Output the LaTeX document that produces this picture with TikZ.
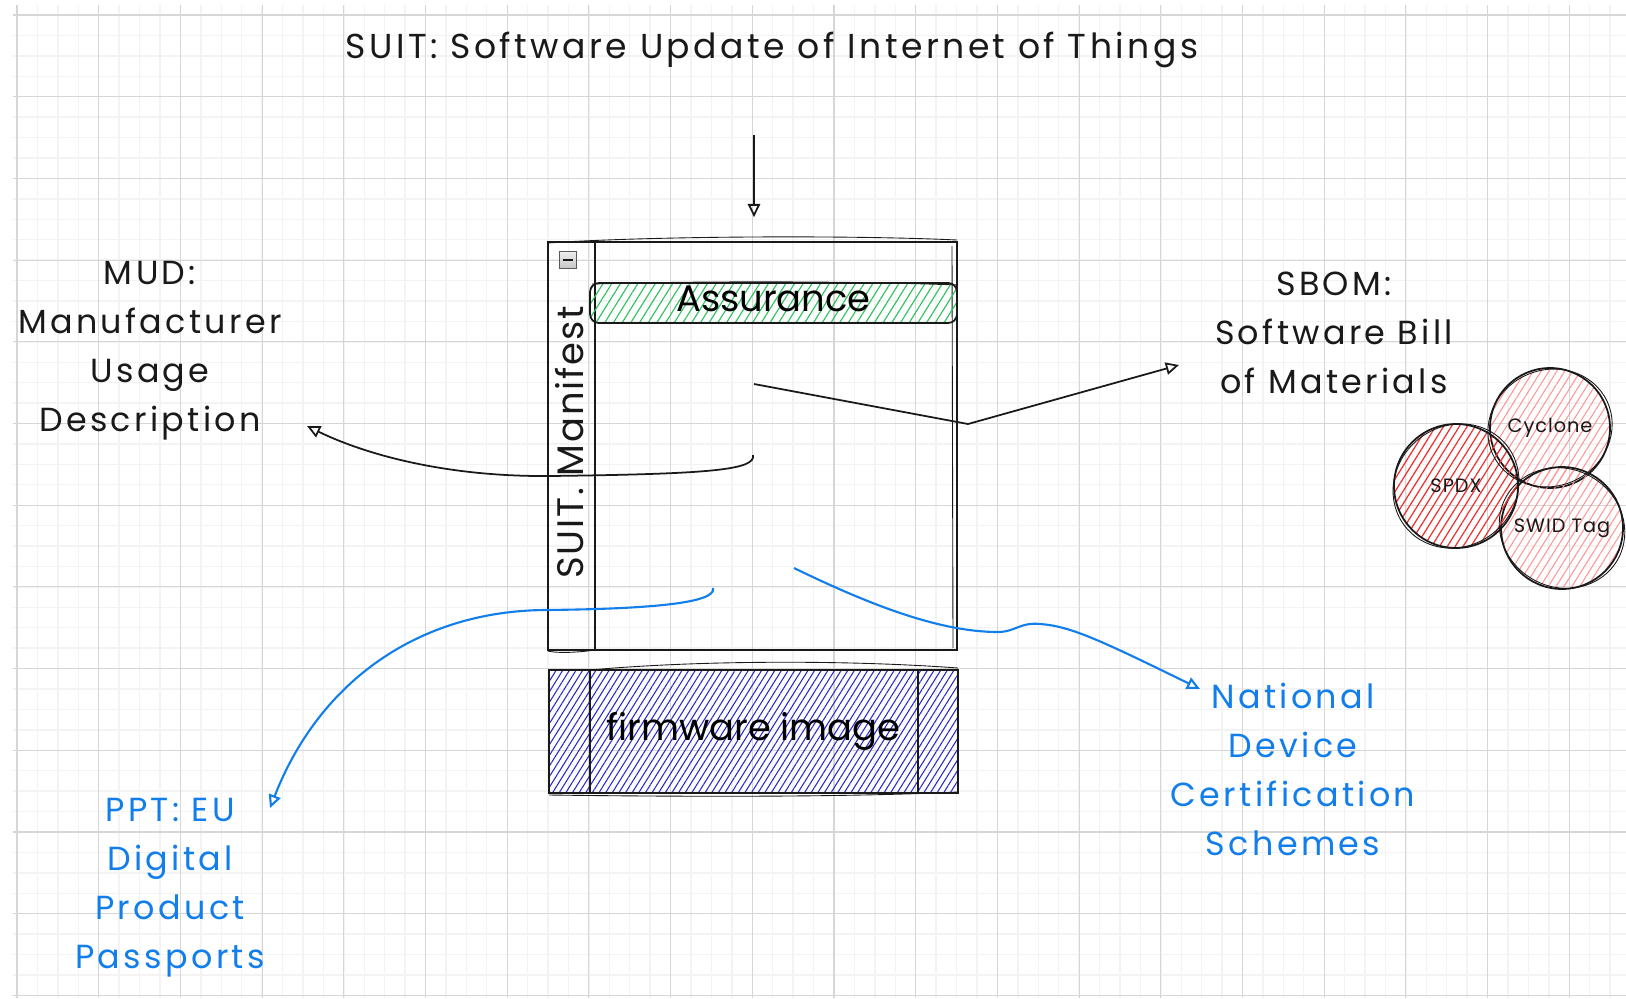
\documentclass[tikz,border=0pt]{standalone}
\usepackage{fontspec}
\setmainfont{Poppins}
\newfontfamily\widehand{Poppins}[LetterSpace=10]
\newfontfamily\midhand{Poppins}[LetterSpace=5]
\usetikzlibrary{arrows.meta,patterns.meta,calc}

\definecolor{gridmajor}{RGB}{214,214,214}
\definecolor{gridminor}{RGB}{243,243,243}
\definecolor{hatchgreen}{RGB}{45,195,95}
\definecolor{hatchblue}{RGB}{40,40,200}
\definecolor{hatchred}{RGB}{238,50,50}
\definecolor{hatchpink}{RGB}{255,150,150}
\definecolor{linkblue}{RGB}{18,126,235}
\definecolor{inkblack}{RGB}{25,25,25}

\tikzset{
  ink/.style={draw=inkblack, line width=1pt},
  sketch/.style={draw=inkblack, line width=0.5pt},
  txt/.style={inner sep=0pt, align=center, text=inkblack, font=\widehand\fontsize{19}{27.8}\selectfont},
  bluetxt/.style={txt, text=linkblue},
  blackarrow/.style={draw=inkblack, line width=1pt, -{Triangle[open, length=7.5pt, width=7pt]}},
  bluearrow/.style={draw=linkblue, line width=1.2pt, -{Triangle[open, length=7.5pt, width=7pt]}},
  hatch/.style 2 args={pattern={Lines[angle=58, distance=#1, line width=#2]}},
  blob/.style={circle, ink, inner sep=0pt, text=inkblack, font=\midhand\fontsize{11}{13}\selectfont},
}

\begin{document}
\begin{tikzpicture}[x=0.02cm, y=-0.02cm]
\useasboundingbox (0,0) rectangle (1626,998);
\fill[white] (0,0) rectangle (1626,998);

% paper grid: faint minor lines, then major lines every fourth
\foreach \k in {0,...,78}
  \draw[gridminor, line width=0.8pt] ({17+20.425*\k},5) -- ({17+20.425*\k},998);
\foreach \k in {0,...,48}
  \draw[gridminor, line width=0.8pt] (13,{15+20.425*\k}) -- (1626,{15+20.425*\k});
\foreach \k in {0,...,19}
  \draw[gridmajor, line width=0.6pt] ({17+81.7*\k},5) -- ({17+81.7*\k},998);
\foreach \k in {0,...,12}
  \draw[gridmajor, line width=0.6pt] (13,{15+81.7*\k}) -- (1626,{15+81.7*\k});

% title
\node[txt, anchor=base, font=\widehand\fontsize{19.7}{24}\selectfont] (title) at (772,58) {SUIT: Software Update of Internet of Things};

% manifest container with its vertical header strip
\node[ink, rectangle, minimum width=8.18cm, minimum height=8.16cm, inner sep=0pt] (manifest) at (752.5,446) {};
\draw[ink] (595,242) -- (595,650);
\draw[sketch] (548,243) .. controls (650,236) and (850,235) .. (957,240);
\draw[sketch] (952,246) -- (953,648);
\draw[sketch] (548,651) .. controls (555,653) and (575,653) .. (595,650);
\node[txt, rotate=90, font=\midhand\fontsize{21}{25}\selectfont] (manifestlabel) at (570,442.5) {SUIT. Manifest};

% collapse button
\node[draw=gray!70!black, line width=0.5pt, top color=gray!15, bottom color=gray!45,
      minimum size=0.34cm, inner sep=0pt] (collapse) at (567.5,260) {};
\draw[gray!20!black, line width=1pt] ($(collapse.center)+(-5,0)$) -- ($(collapse.center)+(5,0)$);

% assurance bar
\node[ink, rounded corners=5pt, hatch={4.2pt}{0.65pt}, pattern color=hatchgreen,
      minimum width=7.34cm, minimum height=0.8cm, inner sep=0pt,
      font=\fontsize{21}{25}\selectfont, text depth=5pt] (assurance) at (773.5,303) {Assurance};
\draw[sketch] (592,284) .. controls (700,281) and (850,281) .. (958,285);

% firmware image block
\node[ink, rectangle, hatch={3.2pt}{0.6pt}, pattern color=hatchblue,
      minimum width=8.18cm, minimum height=2.46cm, inner sep=0pt,
      font=\fontsize{21}{25}\selectfont] (firmware) at (753.5,731.5) {firmware image};
\draw[ink] (590,670) -- (590,793);
\draw[ink] (918,670) -- (918,793);
\draw[sketch] (590,670) .. controls (700,660) and (850,660) .. (958,668);
\draw[sketch] (549,795) .. controls (700,797) and (850,797) .. (958,792);

% outer labels
\node[txt, anchor=north] (mud) at (150,261) {MUD:\\Manufacturer\\Usage\\Description};
\node[txt, anchor=north] (sbom) at (1334,272) {SBOM:\\Software Bill\\of Materials};
\node[bluetxt, anchor=north] (ppt) at (170,798) {PPT: EU\\Digital\\Product\\Passports};
\node[bluetxt, anchor=north] (ndcs) at (1293,683) {National\\Device\\Certification\\Schemes};

% SBOM formats
\node[blob, minimum size=2.4cm, hatch={3.8pt}{0.6pt}, pattern color=hatchpink] (cyclone) at (1550,428) {Cyclone};
\node[blob, minimum size=2.44cm, hatch={3.8pt}{0.6pt}, pattern color=hatchpink] (swid) at (1562,528) {SWID Tag};
\node[blob, minimum size=2.48cm, hatch={3.8pt}{0.7pt}, pattern color=hatchred] (spdx) at (1456,486) {SPDX};
\draw[sketch, rotate around={25:(cyclone.center)}] (cyclone.center) ellipse [x radius=63, y radius=58];
\draw[sketch, rotate around={-30:(swid.center)}] (swid.center) ellipse [x radius=64, y radius=59];
\draw[sketch, rotate around={40:(spdx.center)}] (spdx.center) ellipse [x radius=65, y radius=60];

% connectors
\coordinate (tstart) at (754,135);
\draw[blackarrow, shorten >=0.48cm] (tstart) -- (tstart |- manifest.north);

\coordinate (sstart) at (754,384);
\draw[blackarrow] (sstart) -- (968,424) -- ($(sbom.north)+(-155,93)$);

\coordinate (mstart) at (753,455);
\draw[blackarrow] (mstart) .. controls (756,470) and (710,474) .. (550,476)
  .. controls (440,477) and (360,452) .. ($(mud.north)+(157,165)$);

\coordinate (pstart) at (713,588);
\draw[bluearrow] (pstart) .. controls (717,603) and (650,609) .. (545,610)
  .. controls (420,611) and (320,680) .. ($(ppt.north)+(100,10)$);

\coordinate (nstart) at (794,568);
\draw[bluearrow] (nstart) .. controls (870,605) and (940,632) .. (998,632)
  .. controls (1015,632) and (1020,622) .. (1040,624)
  .. controls (1070,626) and (1100,640) .. ($(ndcs.north)+(-93,6)$);
\end{tikzpicture}
\end{document}
